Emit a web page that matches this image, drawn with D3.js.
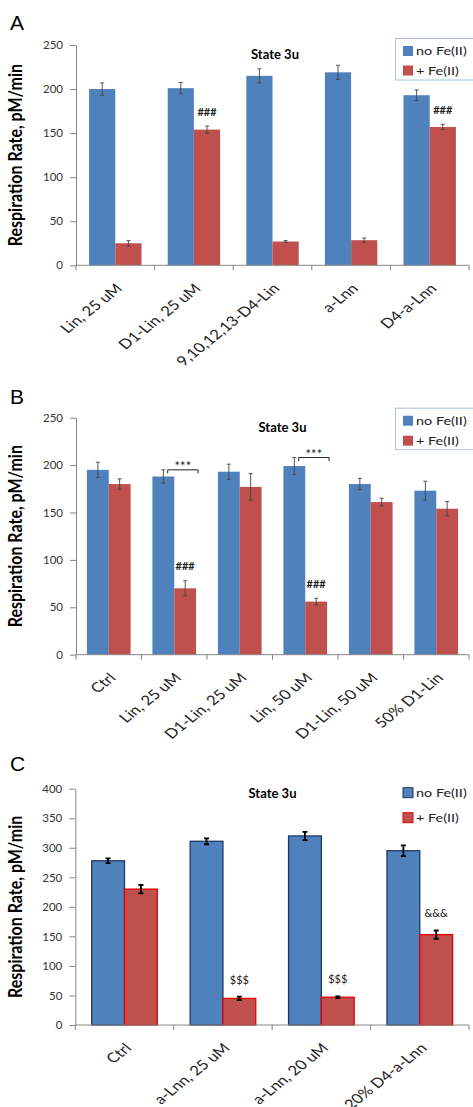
<!DOCTYPE html>
<html>
<head>
<meta charset="utf-8">
<script src="https://cdn.jsdelivr.net/npm/d3@7"></script>
<style>
  body { margin: 0; background: #fff; }
  svg { display: block; font-family: Lato, 'Open Sans', sans-serif; }
</style>
</head>
<body>
<svg id="chart" width="473" height="1107"></svg>
<script>
// Panel A
const catsA = ['Lin, 25 uM', 'D1-Lin, 25 uM', '9,10,12,13-D4-Lin', 'a-Lnn', 'D4-a-Lnn'];
const noFeA = [200, 201, 215, 219, 193];
const noFeErrA = [7, 6.5, 8, 8, 6];
const feA = [25, 154, 27, 28.5, 157];
const feErrA = [3, 4, 1, 2.5, 3];
const marksA = ['', '###', '', '', '###'];
const ticksA = [0, 50, 100, 150, 200, 250];

// Panel B
const catsB = ['Ctrl', 'Lin, 25 uM', 'D1-Lin, 25 uM', 'Lin, 50 uM', 'D1-Lin, 50 uM', '50% D1-Lin'];
const noFeB = [195, 188, 193, 199, 180, 173];
const noFeErrB = [8, 7, 8, 9, 6, 10];
const feB = [180, 70, 177, 56, 161, 154];
const feErrB = [5.5, 8, 14, 3.5, 4, 7.5];
const marksB = ['', '###', '', '###', '', ''];
const bracketsB = ['', '***', '', '***', '', ''];
const ticksB = [0, 50, 100, 150, 200, 250];

// Panel C
const catsC = ['Ctrl', 'a-Lnn, 25 uM', 'a-Lnn, 20 uM', '20% D4-a-Lnn'];
const noFeC = [278, 311, 320, 295];
const noFeErrC = [4, 5, 7, 9];
const feC = [230, 45, 47, 153];
const feErrC = [7, 3, 1.5, 7];
const marksC = ['', '$$$', '$$$', '&&&'];
const ticksC = [0, 50, 100, 150, 200, 250, 300, 350, 400];

const seriesNames = ['no Fe(II)', '+ Fe(II)'];
const BLUE = '#4f81bd', RED = '#c0504d';
const SX = 1.2; // source image is stretched horizontally

const svg = d3.select('#chart');

function drawPanel(opt) {
  const g = svg.append('g');
  const y = d3.scaleLinear().domain([0, opt.ticks[opt.ticks.length - 1]]).range([opt.y0, opt.yTop]);
  const x = d3.scaleBand().domain(opt.cats).range([opt.x0, opt.x1]);
  const xs = d3.scaleBand().domain(['noFe', 'fe']).range([0, x.bandwidth()]).paddingOuter(0.5);
  const bw = xs.bandwidth();

  // panel letter
  g.append('text')
    .attr('x', 10).attr('y', opt.letterY)
    .style('font-family', "'Liberation Sans', Arial, sans-serif")
    .style('font-size', '21px')
    .text(opt.letter);

  // y axis title
  g.append('text')
    .attr('transform', `translate(21.5,${(opt.y0 + opt.yTop) / 2}) scale(${SX},1) rotate(-90)`)
    .attr('text-anchor', 'middle')
    .style('font-size', '16px')
    .style('font-weight', '700')
    .text('Respiration Rate, pM/min');

  // bars
  const rows = opt.cats.map((c, i) => ({
    cat: c, i,
    vals: [
      { key: 'noFe', v: opt.noFe[i], e: opt.noFeErr[i] },
      { key: 'fe', v: opt.fe[i], e: opt.feErr[i] }
    ]
  }));

  const grp = g.selectAll('.grp').data(rows).enter().append('g')
    .attr('transform', d => `translate(${x(d.cat)},0)`);

  grp.selectAll('rect').data(d => d.vals).enter().append('rect')
    .attr('x', d => xs(d.key))
    .attr('y', d => y(d.v))
    .attr('width', bw)
    .attr('height', d => opt.y0 - y(d.v))
    .attr('fill', d => d.key === 'noFe' ? BLUE : RED)
    .attr('stroke', d => opt.outlined ? (d.key === 'noFe' ? '#1f3864' : '#e00000') : 'none')
    .attr('stroke-width', opt.outlined ? 1.3 : 0);

  const errCol = opt.outlined ? '#000' : '#444';
  const errW = opt.outlined ? 1.8 : 0.9;
  const cap = opt.outlined ? 2.5 : 2;
  grp.selectAll('.err').data(d => d.vals).enter().append('path')
    .attr('fill', 'none')
    .attr('stroke', errCol)
    .attr('stroke-width', errW)
    .attr('d', d => {
      const cx = xs(d.key) + bw / 2;
      const t = y(d.v + d.e), b = y(d.v - d.e);
      return `M${cx},${t}V${b}M${cx - cap},${t}H${cx + cap}M${cx - cap},${b}H${cx + cap}`;
    });

  // significance marks above red bars
  grp.append('text')
    .attr('x', xs('fe') + bw / 2)
    .attr('y', d => y(d.vals[1].v + d.vals[1].e) - (opt.outlined ? 13 : 10.5))
    .attr('text-anchor', 'middle')
    .style('font-size', '11px')
    .style('font-weight', opt.outlined ? '400' : '700')
    .style('fill', '#222')
    .text(d => opt.marks[d.i]);

  // brackets
  if (opt.brackets) {
    const bx1 = xs('noFe') + bw * 0.7, bx2 = xs('fe') + bw + 2;
    const bg = grp.filter(d => opt.brackets[d.i]);
    bg.append('path')
      .attr('fill', 'none')
      .attr('stroke', '#222')
      .attr('stroke-width', 1)
      .attr('d', d => {
        const yy = y(d.vals[0].v + d.vals[0].e);
        return `M${bx1},${yy + 3.5}V${yy}H${bx2}V${yy + 3.5}`;
      });
    bg.append('text')
      .attr('x', (bx1 + bx2) / 2)
      .attr('y', d => y(d.vals[0].v + d.vals[0].e) + 1)
      .attr('text-anchor', 'middle')
      .style('font-size', '13px')
      .style('fill', '#222')
      .text(d => opt.brackets[d.i]);
  }

  // y axis
  const yAxis = g.append('g').attr('transform', `translate(${opt.x0},0)`)
    .call(d3.axisLeft(y).tickValues(opt.ticks).tickSize(6).tickPadding(7).tickSizeOuter(0));
  yAxis.select('.domain').attr('stroke', '#868686');
  yAxis.selectAll('.tick line').attr('stroke', '#868686');
  yAxis.selectAll('.tick text')
    .style('font-family', 'Lato, sans-serif')
    .style('font-size', '11.5px').style('fill', '#333');

  // x axis
  g.append('line')
    .attr('x1', opt.x0).attr('x2', opt.x1)
    .attr('y1', opt.y0).attr('y2', opt.y0)
    .attr('stroke', '#868686');
  const bounds = opt.cats.map(c => x(c)).concat([opt.x1]);
  g.selectAll('.xt').data(bounds).enter().append('line')
    .attr('x1', d => d).attr('x2', d => d)
    .attr('y1', opt.y0).attr('y2', opt.y0 + 5)
    .attr('stroke', '#868686');

  g.selectAll('.xl').data(opt.cats).enter().append('text')
    .attr('transform', c => `translate(${x(c) + x.bandwidth() / 2 + 8},${opt.y0 + 24}) scale(1.25,1) rotate(-45)`)
    .attr('text-anchor', 'end')
    .style('font-size', '13.5px')
    .style('fill', '#222')
    .text(c => c);

  // title
  g.append('text')
    .attr('x', opt.titleX).attr('y', opt.titleY)
    .attr('text-anchor', 'middle')
    .style('font-size', '13px')
    .style('font-weight', '700')
    .text('State 3u');

  // legend
  const lg = g.append('g');
  if (!opt.outlined) {
    lg.append('rect')
      .attr('x', 395.5).attr('y', opt.legY - 12.5)
      .attr('width', 90).attr('height', 41.5)
      .attr('fill', '#fff')
      .attr('stroke', '#a9c1e0');
  }
  seriesNames.forEach((s, i) => {
    const cy = opt.legY + i * opt.legGap;
    lg.append('rect')
      .attr('x', 403).attr('y', cy - 5)
      .attr('width', 10).attr('height', 10)
      .attr('fill', i === 0 ? BLUE : RED)
      .attr('stroke', opt.outlined ? (i === 0 ? '#1f3864' : '#e00000') : 'none')
      .attr('stroke-width', 1);
    lg.append('text')
      .attr('transform', `translate(416,${cy}) scale(${SX},1)`)
      .attr('dy', '0.36em')
      .style('font-size', '12px')
      .style('fill', '#222')
      .text(s);
  });
}

drawPanel({
  letter: 'A', letterY: 30,
  cats: catsA, noFe: noFeA, noFeErr: noFeErrA, fe: feA, feErr: feErrA, marks: marksA, ticks: ticksA,
  x0: 76, x1: 469, y0: 265.3, yTop: 45,
  titleX: 275, titleY: 59, legY: 51, legGap: 19.5, outlined: false
});

drawPanel({
  letter: 'B', letterY: 404,
  cats: catsB, noFe: noFeB, noFeErr: noFeErrB, fe: feB, feErr: feErrB, marks: marksB, brackets: bracketsB, ticks: ticksB,
  x0: 76, x1: 469, y0: 654.7, yTop: 417.7,
  titleX: 282.5, titleY: 431.5, legY: 420.7, legGap: 20, outlined: false
});

drawPanel({
  letter: 'C', letterY: 771,
  cats: catsC, noFe: noFeC, noFeErr: noFeErrC, fe: feC, feErr: feErrC, marks: marksC, ticks: ticksC,
  x0: 75.3, x1: 469, y0: 1025, yTop: 788.7,
  titleX: 272.5, titleY: 798, legY: 792.7, legGap: 25, outlined: true
});
</script>
</body>
</html>
